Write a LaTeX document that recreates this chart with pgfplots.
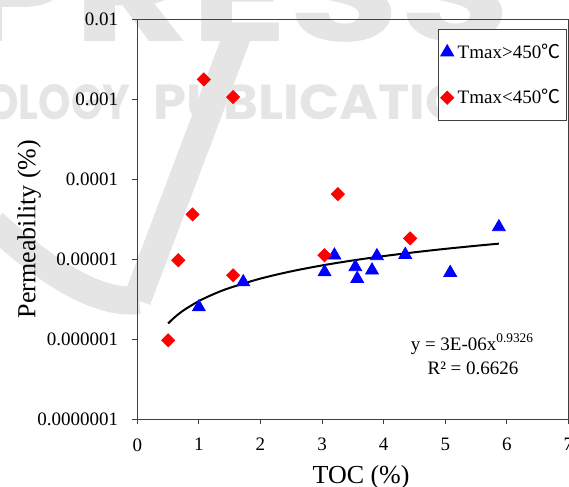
\documentclass[border=0pt]{standalone}
\usepackage{pgfplots}
\pgfplotsset{compat=1.18}
\usepackage{fontspec}
\setmainfont{Liberation Serif}
\newfontfamily\cjk{Noto Sans CJK SC}
\newfontfamily\wm{Poppins}
\newcommand{\degC}{{\cjk ℃}}
\definecolor{wmgray}{RGB}{229,229,229}

\begin{document}
\begin{tikzpicture}
% publisher watermark behind the chart
\draw[wmgray, line width=14pt] (50pt,192pt) -- (-0.15pt,59.65pt);
\draw[wmgray, line width=14pt] (-72pt,98pt) .. controls (-43.65pt,72.15pt) and (-18.65pt,57.15pt) .. (1pt,59.65pt);
\node[anchor=south west, inner sep=0pt, text=wmgray] at (-88.65pt,188.15pt)
  {\resizebox{275pt}{48pt}{\wm\bfseries PRESS}};
\node[anchor=south west, inner sep=0pt, text=wmgray] at (-75.65pt,149.65pt)
  {\resizebox{72pt}{17.5pt}{\wm\bfseries OLOGY}};
\node[anchor=south west, inner sep=0pt, text=wmgray] at (7.85pt,149.65pt)
  {\resizebox{193pt}{17.5pt}{\wm\bfseries PUBLICATIONS}};

\begin{axis}[
  at={(0,0)}, anchor=south west,
  scale only axis, width=215.6pt, height=200.15pt,
  xmin=0, xmax=7, ymode=log, ymin=1e-7, ymax=1e-2,
  axis line style={draw=black!75, line width=0.5pt},
  xtick={0,...,7}, xticklabels={0,1,2,3,4,5,6,7},
  ytick={1e-7,1e-6,1e-5,1e-4,1e-3,1e-2},
  yticklabels={0.0000001,0.000001,0.00001,0.0001,0.001,0.01},
  yminorticks=false,
  tick align=outside, tick pos=left,
  major tick length=2.5pt,
  tick style={black!75, line width=0.5pt},
  tick label style={font=\fontsize{9.5}{11}\selectfont},
  yticklabel style={xshift=-3.5pt},
  xticklabel style={yshift=-3.5pt},
  label style={font=\fontsize{13}{15}\selectfont},
  xlabel={TOC (\%)}, ylabel={Permeability (\%)},
  xlabel style={at={(axis description cs:0.519,-0.146)}, anchor=center},
  ylabel style={at={(axis description cs:-0.2506,0.4754)}, anchor=center},
  legend style={at={(rel axis cs:0.996,0.975)}, anchor=north east,
    draw=black!75, line width=0.5pt, font=\fontsize{9.5}{11}\selectfont,
    row sep=10pt, inner xsep=1pt, inner ysep=5pt},
  legend cell align=left,
]
\addplot[only marks, mark=triangle*, mark size=3.7pt, color=blue] coordinates {
  (1.00,2.52e-6) (1.72,5.18e-6) (3.04,6.90e-6) (3.20,1.117e-5)
  (3.54,7.98e-6) (3.57,5.70e-6) (3.81,7.26e-6) (3.89,1.095e-5)
  (4.35,1.137e-5) (5.08,6.77e-6) (5.87,2.52e-5)
};
\addlegendentry{Tmax>450\degC}
\addplot[only marks, mark=square*, mark size=2.3pt, mark options={rotate=45}, color=red] coordinates {
  (1.08,1.76e-3) (1.555,1.06e-3) (0.897,3.62e-5) (0.665,9.7e-6)
  (1.555,6.3e-6) (0.502,9.7e-7) (3.256,6.5e-5) (4.43,1.82e-5)
  (3.04,1.12e-5)
};
\addlegendentry{Tmax<450\degC}
% power-law trend line, y = 3E-06 x^0.9326
\addplot[black, line width=1pt, smooth, forget plot] coordinates {
  (0.5,1.572e-6) (0.6,1.863e-6) (0.75,2.294e-6) (1,3.0e-6)
  (1.25,3.694e-6) (1.5,4.379e-6) (2,5.726e-6) (2.5,7.051e-6)
  (3,8.358e-6) (3.5,9.650e-6) (4,1.0929e-5) (4.5,1.2198e-5)
  (5,1.3459e-5) (5.5,1.4708e-5) (5.87,1.5630e-5)
};
\node[font=\fontsize{9.5}{11}\selectfont] at (axis cs:5.44,8.66e-7) {y = 3E-06x\textsuperscript{0.9326}};
\node[font=\fontsize{9.5}{11}\selectfont] at (axis cs:5.45,4.38e-7) {R² = 0.6626};
\end{axis}
\pgfresetboundingbox
\useasboundingbox (-68.65pt,-33.85pt) rectangle (215.85pt,209.65pt);
\end{tikzpicture}
\end{document}
